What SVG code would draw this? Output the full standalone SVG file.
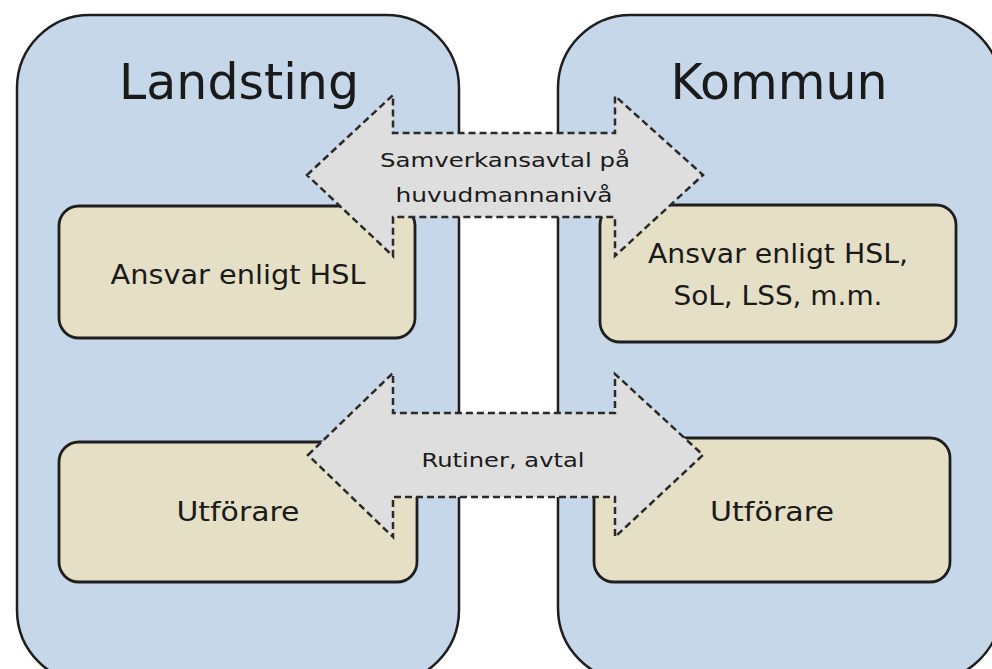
<svg xmlns="http://www.w3.org/2000/svg" width="992" height="669" viewBox="0 0 992 669">
<style>
.cont{fill:#c6d7ea;stroke:#1e1e1e;stroke-width:2.5}
.box{fill:#e5dfc5;stroke:#1e1e1e;stroke-width:2.8}
.arr{fill:#dedede;stroke:#2a2a2a;stroke-width:2.5;stroke-dasharray:7 4}
text{font-family:"DejaVu Sans","Liberation Sans",sans-serif;fill:#1a1a1a;text-anchor:middle}
.t{font-size:49px}
.b{font-size:26px}
.a{font-size:20px}
</style>
<rect width="992" height="669" fill="#ffffff"/>
<g id="landsting">
<rect class="cont" x="17" y="15" width="442" height="668" rx="73" ry="73"/>
<text class="t" x="239" y="99">Landsting</text>
</g>
<g id="kommun">
<rect class="cont" x="558" y="15" width="443" height="666" rx="73" ry="73"/>
<text class="t" x="779" y="99">Kommun</text>
</g>
<g id="landsting-ansvar">
<rect class="box" x="59" y="206" width="356" height="132" rx="20" ry="20"/>
<text class="b" x="238" y="284" textLength="255" lengthAdjust="spacingAndGlyphs">Ansvar enligt HSL</text>
</g>
<g id="kommun-ansvar">
<rect class="box" x="600" y="205" width="356" height="137" rx="20" ry="20"/>
<text class="b" x="778" y="263" textLength="260" lengthAdjust="spacingAndGlyphs">Ansvar enligt HSL,</text>
<text class="b" x="778" y="305" textLength="209" lengthAdjust="spacingAndGlyphs">SoL, LSS, m.m.</text>
</g>
<g id="landsting-utforare">
<rect class="box" x="59" y="442" width="358" height="140" rx="20" ry="20"/>
<text class="b" x="238" y="521" textLength="123" lengthAdjust="spacingAndGlyphs">Utförare</text>
</g>
<g id="kommun-utforare">
<rect class="box" x="594" y="438" width="356" height="144" rx="20" ry="20"/>
<text class="b" x="772" y="521" textLength="124" lengthAdjust="spacingAndGlyphs">Utförare</text>
</g>
<g id="connectors">
<g id="samverkansavtal">
<polygon class="arr" points="307,175 393,95 393,133 615,133 615,96 703,175 615,256 615,217 393,217 393,256"/>
<text class="a" x="505" y="167" textLength="250" lengthAdjust="spacingAndGlyphs">Samverkansavtal på</text>
<text class="a" x="504" y="202" textLength="217" lengthAdjust="spacingAndGlyphs">huvudmannanivå</text>
</g>
<g id="rutiner">
<polygon class="arr" points="308,455 393,373 393,413 615,413 615,374 703,455 615,537 615,497 393,497 393,537"/>
<text class="a" x="503" y="467" textLength="163" lengthAdjust="spacingAndGlyphs">Rutiner, avtal</text>
</g>
</g>
</svg>
